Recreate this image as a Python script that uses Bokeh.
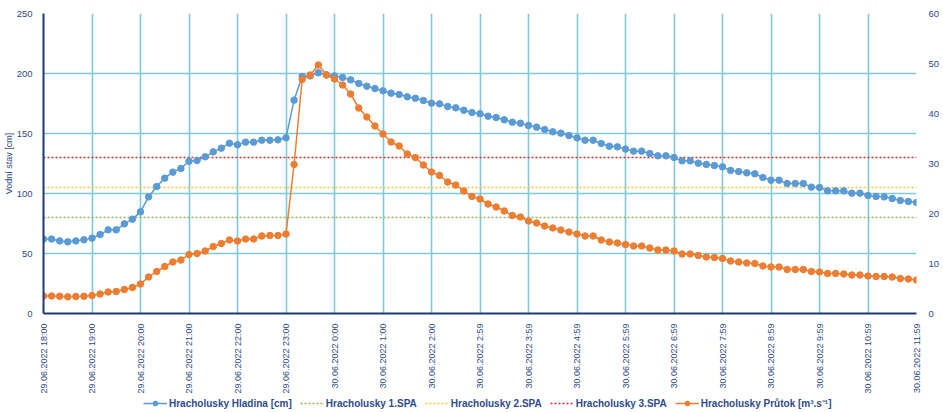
import math
from bokeh.plotting import figure
from bokeh.layouts import column
from bokeh.models import Range1d, LinearAxis, FixedTicker, Legend, LegendItem, Label
from bokeh.embed import file_html
from bokeh.resources import INLINE

# ---- data (10-minute steps, 29.06.2022 18:00 -> 30.06.2022 11:59) ----
hladina = [62, 62, 60.5, 59.7, 60.5, 61.4, 62.8, 65.8, 69.7, 69.7, 74.7, 78.6, 84.7,
           97.2, 105.8, 112.8, 117.8, 120.8, 126.9, 127.5, 130.6, 134.7, 137.8, 141.9,
           140.6, 142.8, 142.8, 144.4, 144.4, 144.7, 146.4, 177.8, 197.5, 198.0, 200.6,
           198.9, 198.0,
           196.7, 194.7, 191.7, 189.4, 187.5, 185.6, 183.6, 182.5, 180.6, 179.4, 177.5,
           175.3, 174.7, 172.5, 171.4, 169.4, 167.5, 166.4, 164.4, 163.3, 161.4, 159.4,
           158.6, 156.7, 155.3, 153.3, 151.4, 150.3, 148.3, 146.4, 144.4, 144.4, 141.7,
           139.4, 138.9, 137.0,
           135.3, 135.3, 133.3, 131.4, 131.4, 130.0, 127.2, 127.2, 125.3, 124.2, 123.3,
           122.2, 119.2, 118.3, 117.2, 116.4, 113.3, 111.1, 111.1, 108.3, 108.3, 108.3,
           105.3, 105.0, 102.2, 102.2, 102.2, 100.3, 100.3, 98.3, 97.5, 97.2, 95.8, 94.2,
           93.3, 92.5]

prutok = [3.5, 3.5, 3.45, 3.35, 3.4, 3.45, 3.6, 3.9, 4.3, 4.4, 4.8, 5.2, 5.9, 7.3, 8.4,
          9.4, 10.3, 10.7, 11.8, 12.0, 12.5, 13.4, 14.0, 14.7, 14.5, 14.9, 14.9, 15.5,
          15.6, 15.6, 15.9, 29.8, 46.8, 47.7, 49.7, 47.7, 46.9,
          45.7, 43.9, 41.1, 39.3, 37.5, 35.9, 34.3, 33.5, 31.9, 31.2, 29.7, 28.3, 27.6,
          26.3, 25.7, 24.5, 23.4, 22.9, 21.9, 21.3, 20.5, 19.6, 19.3, 18.5, 18.1, 17.5,
          17.1, 16.7, 16.3, 15.9, 15.5, 15.5, 14.7, 14.3, 14.1, 13.8,
          13.5, 13.5, 13.1, 12.7, 12.7, 12.5, 11.9, 11.9, 11.6, 11.3, 11.2, 11.0, 10.5,
          10.3, 10.1, 10.0, 9.5, 9.3, 9.3, 8.8, 8.8, 8.8, 8.4, 8.3, 8.0, 8.0, 7.9, 7.7,
          7.7, 7.5, 7.4, 7.4, 7.3, 7.0, 6.9, 6.7]

spa_levels = [80, 105, 130]
spa_names = ["Hracholusky 1.SPA", "Hracholusky 2.SPA", "Hracholusky 3.SPA"]

tick_labels = ["29.06.2022 18:00", "29.06.2022 19:00", "29.06.2022 20:00",
               "29.06.2022 21:00", "29.06.2022 22:00", "29.06.2022 23:00",
               "30.06.2022 0:00", "30.06.2022 1:00", "30.06.2022 2:00",
               "30.06.2022 2:59", "30.06.2022 3:59", "30.06.2022 4:59",
               "30.06.2022 5:59", "30.06.2022 6:59", "30.06.2022 7:59",
               "30.06.2022 8:59", "30.06.2022 9:59", "30.06.2022 10:59",
               "30.06.2022 11:59"]

x = list(range(len(hladina)))
tick_pos = [i * 6 for i in range(len(tick_labels))]

FONT = "Liberation Sans"
NAVY = "#2F4B89"
AXIS = "#1F3A70"
GRID = "#80CAD5"
BLUE = "#5B9BD5"
ORANGE = "#ED7D31"
spa_colors = ["#8DB85A", "#F2C230", "#E0282B"]


def draw_series(fig, y_name):
    rs = []
    for lvl, col in zip(spa_levels, spa_colors):
        rs.append(fig.line(x=[x[0], x[-1]], y=[lvl, lvl], line_color=col,
                           line_width=1.3, line_dash="2 2"))
    bl = fig.line(x, hladina, line_color=BLUE, line_width=1.5)
    bs = fig.scatter(x, hladina, size=6.5, fill_color=BLUE, line_color=BLUE)
    ol = fig.line(x, prutok, line_color=ORANGE, line_width=1.5, y_range_name=y_name)
    os_ = fig.scatter(x, prutok, size=6.5, fill_color=ORANGE, line_color=ORANGE,
                      y_range_name=y_name)
    return rs, (bl, bs), (ol, os_)


p = figure(width=943, height=396, output_backend="svg", toolbar_location=None,
           x_range=Range1d(x[0], x[-1]), y_range=Range1d(0, 250),
           min_border_left=43, min_border_right=27, min_border_top=13,
           min_border_bottom=83)
p.outline_line_color = None
p.background_fill_color = "white"
p.extra_y_ranges = {"flow": Range1d(0, 60)}

# axes
xa = p.xaxis[0]
xa.ticker = FixedTicker(ticks=tick_pos)
xa.major_label_overrides = {t: l for t, l in zip(tick_pos, tick_labels)}
xa.major_label_orientation = math.pi / 2
xa.major_label_text_font = FONT
xa.major_label_text_font_size = "9px"
xa.major_label_text_color = NAVY
xa.major_tick_line_color = None
xa.minor_tick_line_color = None
xa.major_label_standoff = 4
xa.axis_line_color = AXIS
xa.axis_line_width = 2

ya = p.yaxis[0]
ya.ticker = FixedTicker(ticks=[0, 50, 100, 150, 200, 250])
ya.major_label_text_font = FONT
ya.major_label_text_font_size = "9.5px"
ya.major_label_text_color = NAVY
ya.major_tick_line_color = None
ya.minor_tick_line_color = None
ya.major_label_standoff = 5
ya.axis_line_color = AXIS
ya.axis_line_width = 2
ya.axis_label = "Vodní stav [cm]"
ya.axis_label_text_font = FONT
ya.axis_label_text_font_size = "9px"
ya.axis_label_text_font_style = "normal"
ya.axis_label_text_color = NAVY
ya.axis_label_standoff = 0

ra = LinearAxis(y_range_name="flow", ticker=FixedTicker(ticks=[0, 10, 20, 30, 40, 50, 60]))
ra.major_label_text_font = FONT
ra.major_label_text_font_size = "9.5px"
ra.major_label_text_color = NAVY
ra.major_tick_line_color = None
ra.minor_tick_line_color = None
ra.major_label_standoff = 6
ra.axis_line_color = None
p.add_layout(ra, "right")

# grids
p.xgrid.ticker = FixedTicker(ticks=tick_pos)
p.xgrid.grid_line_color = GRID
p.xgrid.grid_line_width = 1.6
p.ygrid.grid_line_color = GRID
p.ygrid.grid_line_width = 1.6

draw_series(p, "flow")

p.add_layout(Label(x=893, y=150, x_units="screen", y_units="screen",
                   text="Průtok [m³.s⁻¹]", angle=math.pi / 2,
                   text_align="center", text_baseline="middle",
                   text_font=FONT, text_font_size="8.5px", text_color=NAVY))

# ---- legend strip (separate figure under the chart; its data lies outside its view) ----
lf = figure(width=943, height=16, output_backend="svg", toolbar_location=None,
            x_range=Range1d(x[0], x[-1]), y_range=Range1d(-1001, -1000),
            min_border_left=43, min_border_right=27, min_border_top=0,
            min_border_bottom=0)
lf.extra_y_ranges = {"flow": Range1d(-1001, -1000)}
lf.axis.visible = False
lf.grid.visible = False
lf.outline_line_color = None

spa_r, blue_r, orange_r = draw_series(lf, "flow")

items = [LegendItem(label="Hracholusky Hladina [cm]", renderers=list(blue_r))]
for name, r in zip(spa_names, spa_r):
    items.append(LegendItem(label=name, renderers=[r]))
items.append(LegendItem(label="Hracholusky Průtok [m³.s⁻¹]", renderers=list(orange_r)))

legend = Legend(items=items, orientation="horizontal", location=(100, 2),
                padding=0, margin=0, spacing=8, glyph_width=24, glyph_height=12,
                label_height=12, label_standoff=2,
                label_text_font=FONT, label_text_font_size="10px",
                label_text_font_style="bold", label_text_color=NAVY,
                border_line_color=None, background_fill_alpha=0)
lf.add_layout(legend, "center")

layout = column(p, lf, spacing=0)
open("out.html", "w").write(file_html(layout, INLINE))
